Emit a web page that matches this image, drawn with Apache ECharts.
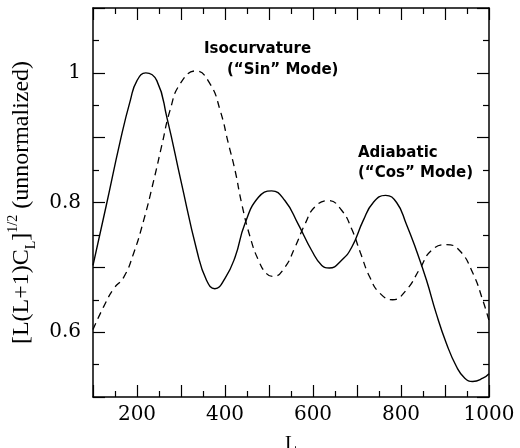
<!DOCTYPE html>
<html>
<head>
<meta charset="utf-8">
<script src="https://cdn.jsdelivr.net/npm/echarts@6/dist/echarts.min.js"></script>
<style>html,body{margin:0;padding:0;background:#fff}#c{width:520px;height:448px}</style>
</head>
<body>
<div id="c"></div>
<script>
// Adiabatic ("Cos" mode), solid curve: multipole L and amplitude
const adiabaticL = [100,130,162,185,200,220,245,268,300,336,358,377,400,423,445,476,506,536,566,597,620,637,665,688,714,737,765,790,812,835,858,880,903,926,945,963,986,1000];
const adiabaticV = [0.703,0.795,0.895,0.958,0.988,1.000,0.988,0.931,0.833,0.726,0.680,0.667,0.683,0.716,0.767,0.808,0.818,0.803,0.767,0.726,0.703,0.699,0.711,0.731,0.772,0.800,0.811,0.800,0.767,0.726,0.680,0.629,0.583,0.547,0.529,0.524,0.529,0.536];
// Isocurvature ("Sin" mode), dashed curve
const isoL = [100,124,147,170,192,215,238,257,275,298,334,366,389,408,423,438,457,476,495,510,536,559,582,604,635,665,688,708,729,752,781,812,843,869,903,933,964,986,1000];
const isoV = [0.604,0.639,0.667,0.685,0.721,0.772,0.834,0.890,0.942,0.983,1.003,0.983,0.942,0.890,0.849,0.798,0.747,0.711,0.690,0.686,0.700,0.731,0.767,0.793,0.803,0.788,0.759,0.722,0.685,0.660,0.650,0.665,0.698,0.726,0.735,0.726,0.690,0.649,0.618];
const xTickLabels = ['200','400','600','800','1000'];
const yTickLabels = ['0.6','0.8','1'];

const pair = (xs, ys) => xs.map((x, i) => [x, ys[i]]);
const chart = echarts.init(document.getElementById('c'), null, {renderer: 'canvas'});
const axisLineStyle = {color: '#000', width: 1.5};
const baseX = {
  type: 'value', min: 100, max: 1000, interval: 100,
  axisLine: {show: true, onZero: false, lineStyle: axisLineStyle},
  axisTick: {show: true, inside: true, length: 12, lineStyle: {color: '#000', width: 1.2}},
  minorTick: {show: true, splitNumber: 2, length: 6, lineStyle: {color: '#000', width: 1.2}},
  splitLine: {show: false}, minorSplitLine: {show: false}
};
const baseY = {
  type: 'value', min: 0.5, max: 1.1, interval: 0.1,
  axisLine: {show: true, onZero: false, lineStyle: axisLineStyle},
  axisTick: {show: true, inside: true, length: 12, lineStyle: {color: '#000', width: 1.2}},
  minorTick: {show: true, splitNumber: 2, length: 6, lineStyle: {color: '#000', width: 1.2}},
  splitLine: {show: false}, minorSplitLine: {show: false}
};
const annFont = 'bold 15px "DejaVu Sans"';
chart.setOption({
  animation: false,
  backgroundColor: '#fff',
  grid: {left: 93, right: 31, top: 8, bottom: 51, containLabel: false, outerBoundsMode: 'none'},
  xAxis: [
    Object.assign({}, baseX, {
      position: 'bottom', name: 'L', nameLocation: 'middle', nameGap: 38,
      nameTextStyle: {fontFamily: 'Liberation Serif', fontSize: 20, color: '#000'},
      axisLabel: {show: true, margin: 8, fontFamily: 'DejaVu Serif', fontSize: 20, color: '#000',
        formatter: v => xTickLabels.indexOf(String(v)) >= 0 ? String(v) : ''}
    }),
    Object.assign({}, baseX, {position: 'top', axisLabel: {show: false}})
  ],
  yAxis: [
    Object.assign({}, baseY, {
      position: 'left',
      name: '[L(L+1)C{sub|L}]{sup|1/2} (unnormalized)',
      nameLocation: 'middle', nameGap: 55, nameRotate: 90,
      nameTextStyle: {fontFamily: 'Liberation Serif', fontSize: 24, color: '#000', lineHeight: 32,
        rich: {
          sub: {fontFamily: 'Liberation Serif', fontSize: 14, lineHeight: 14, verticalAlign: 'bottom', color: '#000'},
          sup: {fontFamily: 'Liberation Serif', fontSize: 14, lineHeight: 14, verticalAlign: 'top', color: '#000'}
        }},
      axisLabel: {show: true, margin: 12, fontFamily: 'DejaVu Serif', fontSize: 20, color: '#000',
        formatter: v => { const s = String(+v.toFixed(2)); return yTickLabels.indexOf(s) >= 0 ? s : ''; }}
    }),
    Object.assign({}, baseY, {position: 'right', axisLabel: {show: false}})
  ],
  series: [
    {name: 'Adiabatic', type: 'line', data: pair(adiabaticL, adiabaticV), smooth: 0.5, symbol: 'none',
     lineStyle: {color: '#000', width: 1.4, type: 'solid'}},
    {name: 'Isocurvature', type: 'line', data: pair(isoL, isoV), smooth: 0.5, symbol: 'none',
     lineStyle: {color: '#000', width: 1.3, type: [7, 5]}}
  ],
  graphic: [
    {type: 'text', left: 204, top: 42, style: {text: 'Isocurvature', font: annFont, fill: '#000'}},
    {type: 'text', left: 227, top: 63, style: {text: '(\u201CSin\u201D Mode)', font: annFont, fill: '#000'}},
    {type: 'text', left: 358, top: 146, style: {text: 'Adiabatic', font: annFont, fill: '#000'}},
    {type: 'text', left: 358, top: 166, style: {text: '(\u201CCos\u201D Mode)', font: annFont, fill: '#000'}}
  ]
});
</script>
</body>
</html>
